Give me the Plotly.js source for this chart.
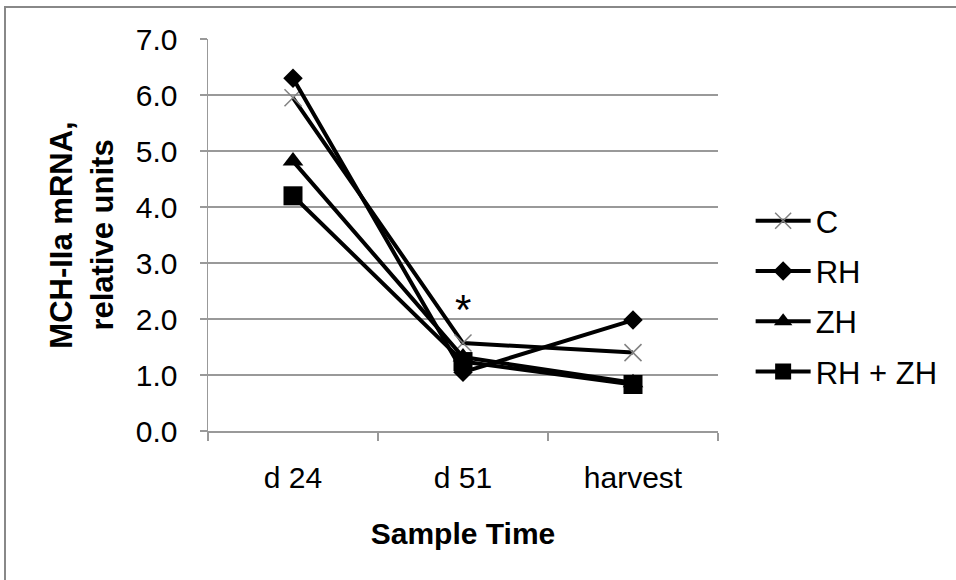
<!DOCTYPE html>
<html>
<head>
<meta charset="utf-8">
<script src="https://cdn.plot.ly/plotly-3.0.1.min.js"></script>
<style>html,body{margin:0;padding:0;background:#fff;}#chart{width:956px;height:580px;}</style>
</head>
<body>
<div id="chart"></div>
<script>
const categories = ['d 24', 'd 51', 'harvest'];
const seriesNames = ['C', 'RH', 'ZH', 'RH + ZH'];
const valuesC = [5.95, 1.57, 1.40];
const valuesRH = [6.30, 1.05, 1.98];
const valuesZH = [4.82, 1.32, 0.86];
const valuesRHZH = [4.20, 1.24, 0.83];
const yTickValues = [0, 1, 2, 3, 4, 5, 6, 7];
const yTickLabels = ['0.0', '1.0', '2.0', '3.0', '4.0', '5.0', '6.0', '7.0'];
const starLabel = '*';
const starCategory = 'd 51';
const starValue = 2.17;

const font = 'Liberation Sans, Arial, sans-serif';
const markers = [
  {symbol: 'x-thin-open', size: 17, color: '#808080', line: {color: '#808080', width: 1.5}},
  {symbol: 'diamond', size: 15, color: '#000'},
  {symbol: 'triangle-up', size: 18, color: '#000'},
  {symbol: 'square', size: 19, color: '#000'}
];
const allValues = [valuesC, valuesRH, valuesZH, valuesRHZH];

const traces = allValues.map((vals, i) => ({
  x: categories,
  y: vals,
  name: seriesNames[i],
  legendgroup: 'g' + i,
  type: 'scatter',
  mode: 'lines+markers',
  line: {color: '#000', width: 4},
  marker: markers[i]
}));

const layout = {
  width: 956,
  height: 580,
  margin: {l: 208, r: 238, t: 39, b: 149},
  paper_bgcolor: '#fff',
  plot_bgcolor: '#fff',
  font: {family: font, color: '#000'},
  showlegend: true,
  legend: {
    x: 1.064, xanchor: 'left', y: 0.343, yanchor: 'middle',
    font: {family: font, size: 31, color: '#000'},
    traceorder: 'grouped', tracegroupgap: 7, itemwidth: 55,
    bgcolor: 'rgba(0,0,0,0)'
  },
  xaxis: {
    type: 'category',
    range: [-0.5, 2.5],
    showline: true, linecolor: '#999', linewidth: 1.5,
    ticks: 'outside', tickson: 'boundaries', ticklen: 8, tickcolor: '#999', tickwidth: 1.5,
    showgrid: false, zeroline: false,
    tickfont: {family: font, size: 30, color: '#000'},
    ticklabelstandoff: 19,
    title: {text: 'Sample Time', font: {family: font, size: 30, color: '#000', weight: 'bold'}, standoff: 30}
  },
  yaxis: {
    range: [0, 7],
    tickvals: yTickValues, ticktext: yTickLabels,
    showline: true, linecolor: '#999', linewidth: 1.5,
    ticks: 'outside', ticklen: 7, tickcolor: '#999', tickwidth: 1.5,
    showgrid: true, gridcolor: '#999', gridwidth: 1.2,
    zeroline: false,
    tickfont: {family: font, size: 30, color: '#000'},
    ticklabelstandoff: 16,
    title: {text: 'MCH-IIa mRNA,<br>relative units', font: {family: font, size: 31, color: '#000', weight: 'bold'}, standoff: 13}
  },
  annotations: [{
    x: starCategory, y: starValue, xref: 'x', yref: 'y',
    text: starLabel, showarrow: false,
    font: {family: font, size: 42, color: '#000'},
    xanchor: 'center', yanchor: 'middle'
  }],
  shapes: [{
    type: 'rect', xref: 'paper', yref: 'paper',
    x0: (5 - 208) / 510, x1: (965 - 208) / 510,
    y0: (431 - 595) / 392, y1: (431 - 7) / 392,
    line: {color: '#888', width: 2}, fillcolor: 'rgba(0,0,0,0)', layer: 'below'
  }]
};

Plotly.newPlot('chart', traces, layout, {displayModeBar: false, staticPlot: true});
</script>
</body>
</html>
